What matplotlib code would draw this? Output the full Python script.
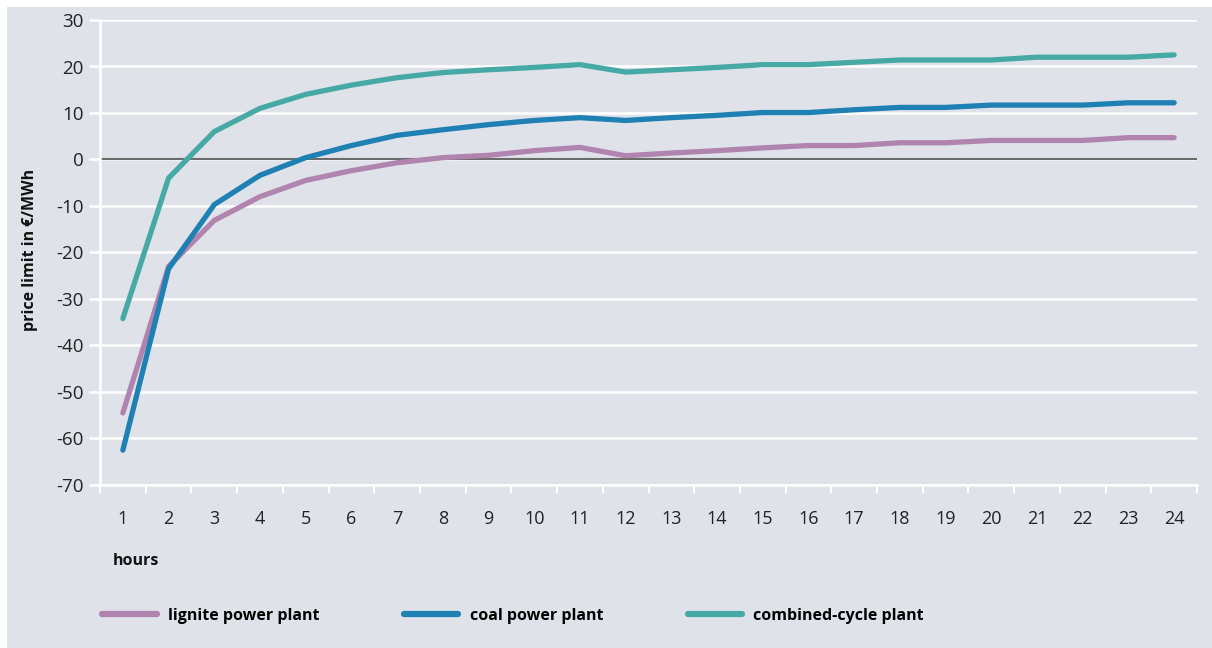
import numpy as np
import matplotlib
matplotlib.use("Agg")
import matplotlib.pyplot as plt
from matplotlib.patches import Rectangle
from matplotlib.lines import Line2D

hours = list(range(1, 25))
lignite = [-54.5, -23.0, -13.1, -8.0, -4.5, -2.4, -0.7, 0.4, 0.9, 1.9, 2.6, 0.8,
           1.4, 1.9, 2.5, 3.0, 3.0, 3.6, 3.6, 4.1, 4.1, 4.1, 4.7, 4.7]
coal = [-62.5, -23.5, -9.7, -3.4, 0.4, 3.0, 5.2, 6.4, 7.5, 8.4, 9.0, 8.4,
        9.0, 9.5, 10.1, 10.1, 10.7, 11.2, 11.2, 11.7, 11.7, 11.7, 12.2, 12.2]
combined = [-34.2, -4.0, 6.0, 11.0, 14.0, 16.0, 17.6, 18.7, 19.3, 19.8, 20.4, 18.8,
            19.3, 19.8, 20.4, 20.4, 20.9, 21.4, 21.4, 21.4, 22.0, 22.0, 22.0, 22.5]

series = [
    ("lignite power plant", lignite, "#b184b0"),
    ("coal power plant", coal, "#1e80b3"),
    ("combined-cycle plant", combined, "#47a9a5"),
]

bg = "#dfe2e9"
plt.rcParams["font.family"] = ["Open Sans", "DejaVu Sans"]

W, H = 1212, 648
fig = plt.figure(figsize=(W / 100, H / 100), dpi=100)
fig.patch.set_facecolor("white")
fig.patches.append(Rectangle((7 / W, 0), 1 - 7 / W, 1 - 7 / H, transform=fig.transFigure,
                             facecolor=bg, edgecolor="none", zorder=-10))

ax = fig.add_axes([100 / W, 1 - 485 / H, 1097 / W, 465 / H])
ax.set_facecolor(bg)
ax.set_xlim(0.5, 24.5)
ax.set_ylim(-70, 30)

for name, vals, col in series:
    ax.plot(hours, vals, color=col, lw=3.8, solid_capstyle="round", zorder=3)

ax.set_yticks(np.arange(-70, 31, 10))
ax.yaxis.grid(True, color="white", lw=1.8, zorder=0)
ax.set_axisbelow(True)
ax.axhline(0, color="#6b6b6b", lw=1.5, zorder=2)

ax.set_xticks(hours)
ax.set_xticks(np.arange(0.5, 25, 1), minor=True)
ax.tick_params(axis="x", which="major", length=0, pad=18, labelsize=13, labelcolor="#222222")
ax.tick_params(axis="x", which="minor", length=6, width=1.5, color="white", direction="out")
ax.tick_params(axis="y", length=8, width=1.8, color="white", labelsize=13.5,
               labelcolor="#222222", pad=4)
ax.set_yticklabels([f"{v}" for v in range(-70, 31, 10)])

for s in ["top", "right"]:
    ax.spines[s].set_visible(False)
ax.spines["left"].set_color("white")
ax.spines["left"].set_linewidth(1.8)
ax.spines["bottom"].set_color("white")
ax.spines["bottom"].set_linewidth(1.8)

fig.text(30 / W, 1 - 250 / H, "price limit in €/MWh", rotation=90, ha="center", va="center",
         fontsize=11.5, fontweight="bold", color="#111111")
fig.text(113 / W, 1 - 561 / H, "hours", ha="left", va="center",
         fontsize=11.5, fontweight="bold", color="#111111")

handles = [Line2D([0], [0], color=c, lw=4.5, solid_capstyle="round") for _, _, c in series]
fig.legend(handles, [n for n, _, _ in series], loc="center left",
           bbox_to_anchor=(88 / W, 1 - 616 / H), ncol=3, frameon=False,
           handlelength=3.4, handletextpad=0.7, columnspacing=5.3,
           prop={"size": 11.5, "weight": "bold"})

fig.savefig("out.png", dpi=100, facecolor=fig.get_facecolor())
